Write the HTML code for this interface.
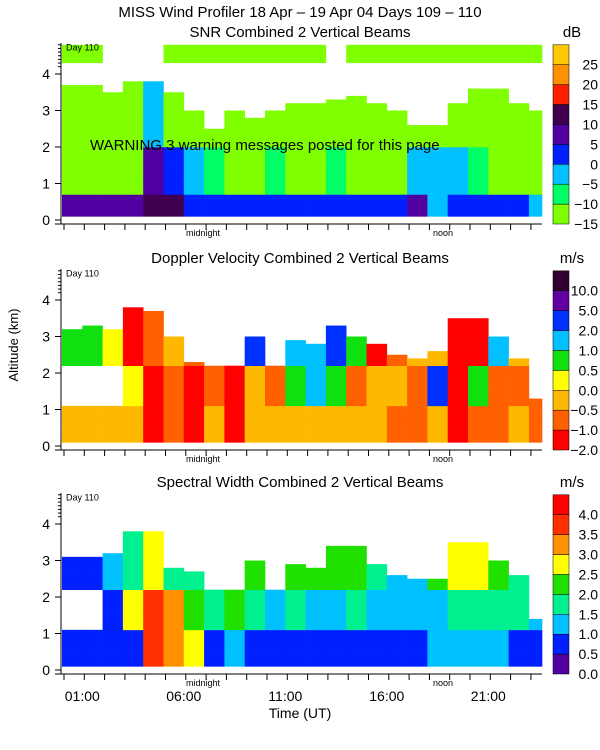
<!DOCTYPE html>
<html><head><meta charset="utf-8"><style>
body{margin:0;background:#fff}
svg{display:block;font-family:"Liberation Sans","DejaVu Sans",sans-serif}
</style></head><body>
<svg id="c" width="600" height="750" viewBox="0 0 600 750">
<text x="300" y="17" text-anchor="middle" font-size="15">MISS Wind Profiler  18 Apr – 19 Apr 04 Days 109 – 110</text>
</svg>
<script>
// hours of day (column starts)
const hours=[0,1,2,3,4,5,6,7,8,9,10,11,12,13,14,15,16,17,18,19,20,21,22,23];
// SNR (dB)
const snrTop=[3.7,3.7,3.5,3.8,3.8,3.5,3.0,2.5,3.0,2.8,3.0,3.2,3.2,3.3,3.4,3.2,3.0,2.6,2.6,3.2,3.6,3.6,3.2,3.0];
const snrLow=[8,8,8,8,11,11,3,3,3,4,4,4,4,4,4,4,4,7,-3,2,2,2,2,-2];
const snrMid=[-12,-12,-12,-11,6,2,-3,-7,-11,-11,-7,-11,-11,-7,-11,-11,-11,-4,-4,-4,-6,-11,-11,-11];
const snrHigh=[-13,-13,-13,-11,-3,-11,-13,-13,-13,-13,-13,-13,-13,-13,-13,-13,-13,-12,-11,-12,-12,-13,-13,-13];
const snrBand=[-13,-13,null,null,null,-13,-13,-13,-13,-13,-13,-13,-13,null,-13,-13,-13,-13,-13,-13,-13,-13,-13,-13];
// Doppler velocity (m/s)
const velTop=[3.2,3.3,3.2,3.8,3.7,3.0,2.3,2.2,2.2,3.0,2.2,2.9,2.8,3.3,3.0,2.8,2.5,2.4,2.6,3.5,3.5,3.0,2.4,1.3];
const velLow=[-0.2,-0.2,-0.2,-0.3,-1.5,-0.7,-1.5,-0.3,-1.5,-0.3,-0.3,-0.3,-0.3,-0.3,-0.3,-0.3,-0.7,-0.7,-0.3,-1.5,-0.7,-0.7,-0.3,-0.7];
const velMid=[null,null,null,0.3,-1.5,-0.7,-1.5,-0.7,-1.5,-0.3,-0.7,0.7,1.5,0.8,-0.7,-0.3,-0.2,-0.7,3.0,-1.5,0.7,-0.7,-0.7,-1.0];
const velHigh=[0.7,0.7,0.3,-1.5,-0.7,-0.3,-1.0,null,null,3.0,null,1.5,1.0,3.0,0.7,-1.5,-0.7,-0.3,-0.3,-1.5,-1.5,1.5,-0.3,null];
// Spectral width (m/s)
const swTop=[3.1,3.1,3.2,3.8,3.8,2.8,2.7,2.3,2.2,3.0,2.4,2.9,2.8,3.4,3.4,2.9,2.6,2.5,2.5,3.5,3.5,3.0,2.6,1.4];
const swLow=[0.6,0.6,0.6,0.7,3.5,3.2,2.5,0.8,1.2,0.8,0.6,0.7,0.6,0.6,0.6,0.6,0.7,0.9,1.2,1.2,1.3,1.1,0.7,0.6];
const swMid=[null,null,0.8,2.8,3.8,3.0,2.2,1.8,2.0,1.6,1.4,1.5,1.2,1.2,1.6,1.4,1.2,1.1,1.2,1.8,1.8,1.6,1.8,1.2];
const swHigh=[0.7,0.7,1.0,1.8,2.8,1.5,1.5,null,null,2.0,null,2.0,2.2,2.2,2.0,1.8,1.2,1.1,2.2,2.8,2.6,2.2,1.8,null];
// colorbar labels
const snrTicks=['25','20','15','10','5','0','−5','−10','−15'];
const velTicks=['10.0','5.0','2.0','1.0','0.5','0.0','−0.5','−1.0','−2.0'];
const swTicks=['4.0','3.5','3.0','2.5','2.0','1.5','1.0','0.5','0.0'];
const timeTicks=['01:00','06:00','11:00','16:00','21:00'];
const timeTickHours=[1,6,11,16,21];

const NS='http://www.w3.org/2000/svg';
const svg=document.getElementById('c');
function el(t,a,p){const e=document.createElementNS(NS,t);for(const k in a)e.setAttribute(k,a[k]);(p||svg).appendChild(e);return e;}
const X0=62,PXH=20.3,XR=542,KM=36.5;
const xS=h=>X0+h*PXH;

const panels=[
 {name:'snr',title:'SNR Combined 2 Vertical Beams',unit:'dB',y0:220,ty:37,top:snrTop,low:snrLow,mid:snrMid,high:snrHigh,band:snrBand,
  bounds:[-10,-5,0,5,10,15,20,25],colors:['#80ff00','#00ff66','#00c0ff','#0020ff','#5000a0','#400050','#ff2000','#ff9000','#ffc800'],ticks:snrTicks,warn:true},
 {name:'velocity',title:'Doppler Velocity Combined 2 Vertical Beams',unit:'m/s',y0:446,ty:263,top:velTop,low:velLow,mid:velMid,high:velHigh,
  bounds:[-1,-0.5,0,0.5,1,2,5,10],colors:['#ff0000','#ff6000','#ffb800','#ffff00','#10e010','#00c0ff','#0030ff','#6000a0','#300030'],ticks:velTicks,ylabel:true},
 {name:'spectral-width',title:'Spectral Width Combined 2 Vertical Beams',unit:'m/s',y0:670,ty:487,top:swTop,low:swLow,mid:swMid,high:swHigh,
  bounds:[0.5,1,1.5,2,2.5,3,3.5,4],colors:['#5000a0','#0020ff','#00c0ff','#00f090','#20e000','#ffff00','#ff9000','#ff3000','#ff0000'],ticks:swTicks,timeLabels:true}
];
function colorOf(p,v){let i=0;while(i<p.bounds.length&&v>=p.bounds[i])i++;return p.colors[i];}

panels.forEach(p=>{
 const g=el('g',{});
 
 
 const yS=km=>p.y0-km*KM;
 const t=el('text',{x:300,y:p.ty,'text-anchor':'middle','font-size':15},g);t.textContent=p.title;
 
 const u=el('text',{x:572,y:p.ty,'text-anchor':'middle','font-size':15},g);u.textContent=p.unit;
 
 const cells=el('g',{},g);
 
 hours.forEach((h,i)=>{
  const w=Math.min(PXH,XR-xS(h))+0.3;
  for(let k=0.1;k<p.top[i]-0.001;k+=0.1){
   let v=k<1.0?p.low[i]:(k<2.2?p.mid[i]:p.high[i]);
   if(p.name==='snr') v=k<0.7?p.low[i]:(k<2.0?p.mid[i]:p.high[i]);
   if(v===null)continue;
   const r=el('rect',{x:xS(h),y:yS(k+0.1),width:w,height:KM*0.1+0.3,fill:colorOf(p,v)},cells);
   
   
  }
  if(p.band&&p.band[i]!==null){
   const r=el('rect',{x:xS(h),y:yS(4.8),width:w,height:KM*0.5,fill:colorOf(p,p.band[i])},cells);
   
   
  }
 });
 // axes
 el('line',{x1:61,y1:yS(4.85),x2:61,y2:p.y0+4,stroke:'#000'},g);
 el('line',{x1:55,y1:p.y0+4,x2:XR,y2:p.y0+4,stroke:'#000'},g);
 for(let k=0;k<=4;k++){
  el('line',{x1:55,y1:yS(k),x2:61,y2:yS(k),stroke:'#000'},g);
  const tl=el('text',{x:50,y:yS(k)+5,'text-anchor':'end','font-size':14},g);tl.textContent=k;
  
 }
 for(let k=4.2;k<=4.8;k+=0.1)el('line',{x1:58,y1:yS(k),x2:61,y2:yS(k),stroke:'#000'},g);
 for(let h=0;h<24;h++){const x=xS(h)+2;el('line',{x1:x,y1:p.y0+4,x2:x,y2:p.y0+10,stroke:'#000'},g);}
 const d=el('text',{x:66,y:yS(4.75)+4,'font-size':9},g);d.textContent='Day 110';
 
 const m=el('text',{x:203,y:p.y0+16,'text-anchor':'middle','font-size':9},g);m.textContent='midnight';
 
 const n=el('text',{x:443,y:p.y0+16,'text-anchor':'middle','font-size':9},g);n.textContent='noon';
 
 // colorbar
 const cb=el('g',{},g);
 
 const cTop=yS(4.8),cBot=p.y0+4,bh=(cBot-cTop)/9;
 p.colors.forEach((c,i)=>{
  const r=el('rect',{x:553,y:cBot-(i+1)*bh,width:16,height:bh,fill:c,stroke:'#000','stroke-width':0.5},cb);
  
 });
 p.ticks.forEach((s,i)=>{
  const tl=el('text',{x:598,y:cTop+bh*(i+1)+5,'text-anchor':'end','font-size':14},cb);tl.textContent=s;
  
 });
 if(p.warn){const w=el('text',{x:90,y:150,'font-size':15},g);w.textContent='WARNING   3 warning messages posted for this page';
  }
 if(p.ylabel){const a=el('text',{x:18,y:345,'text-anchor':'middle','font-size':13,transform:'rotate(-90 18 345)'},g);a.textContent='Altitude (km)';
  }
 if(p.timeLabels){
  timeTicks.forEach((s,i)=>{const tl=el('text',{x:xS(timeTickHours[i]),y:p.y0+31,'text-anchor':'middle','font-size':14},g);tl.textContent=s;
   });
  const a=el('text',{x:300,y:p.y0+48,'text-anchor':'middle','font-size':14},g);a.textContent='Time (UT)';
  
 }
});
</script>
</body></html>
